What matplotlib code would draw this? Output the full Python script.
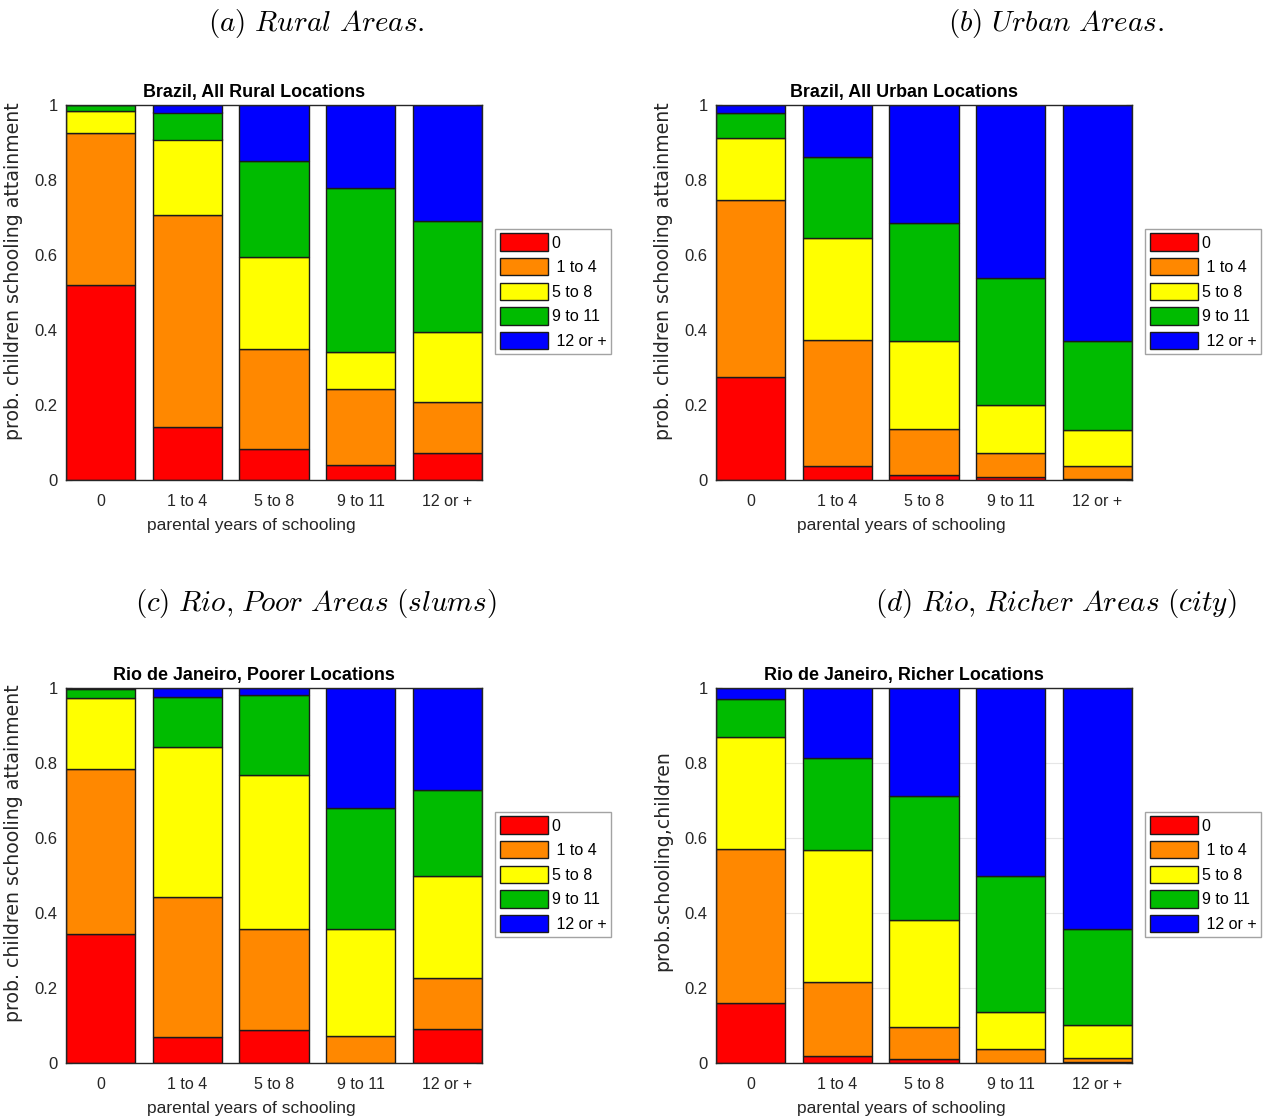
import matplotlib
matplotlib.use("Agg")
import matplotlib.pyplot as plt
import numpy as np

plt.rcParams['mathtext.fontset'] = 'cm'

# ---- data ----
parent_cats = ['0', '1 to 4', '5 to 8', '9 to 11', '12 or +']
child_labels = ['0', ' 1 to 4', '5 to 8', '9 to 11', ' 12 or +']

# Panel (a) Brazil rural: share of children by schooling class, per parental class
rural_0     = [0.520, 0.141, 0.084, 0.039, 0.073]
rural_1to4  = [0.405, 0.566, 0.266, 0.205, 0.136]
rural_5to8  = [0.059, 0.201, 0.244, 0.098, 0.185]
rural_9to11 = [0.015, 0.072, 0.258, 0.436, 0.298]
rural_12    = [0.001, 0.020, 0.148, 0.222, 0.308]

# Panel (b) Brazil urban
urban_0     = [0.275, 0.038, 0.014, 0.007, 0.004]
urban_1to4  = [0.472, 0.336, 0.123, 0.064, 0.034]
urban_5to8  = [0.164, 0.271, 0.234, 0.129, 0.095]
urban_9to11 = [0.067, 0.216, 0.314, 0.339, 0.238]
urban_12    = [0.022, 0.139, 0.315, 0.461, 0.629]

# Panel (c) Rio poorer
poor_0     = [0.345, 0.069, 0.089, 0.000, 0.091]
poor_1to4  = [0.438, 0.374, 0.268, 0.071, 0.136]
poor_5to8  = [0.191, 0.400, 0.411, 0.286, 0.273]
poor_9to11 = [0.024, 0.132, 0.214, 0.322, 0.227]
poor_12    = [0.002, 0.025, 0.018, 0.321, 0.273]

# Panel (d) Rio richer
rich_0     = [0.159, 0.020, 0.010, 0.001, 0.003]
rich_1to4  = [0.411, 0.197, 0.085, 0.036, 0.010]
rich_5to8  = [0.300, 0.352, 0.287, 0.099, 0.089]
rich_9to11 = [0.101, 0.245, 0.331, 0.363, 0.255]
rich_12    = [0.029, 0.186, 0.287, 0.501, 0.643]

colors = ['#FF0000', '#FF8800', '#FFFF00', '#00BB00', '#0000FF']

panels = [
    dict(series=[rural_0, rural_1to4, rural_5to8, rural_9to11, rural_12],
         title='Brazil, All Rural Locations',
         ylabel='prob. children schooling attainment',
         caption=r'$\mathit{(a)\ Rural\ Areas.}$', grid=False, ly=0.556),
    dict(series=[urban_0, urban_1to4, urban_5to8, urban_9to11, urban_12],
         title='Brazil, All Urban Locations',
         ylabel='prob. children schooling attainment',
         caption=r'$\mathit{(b)\ Urban\ Areas.}$', grid=False, ly=0.556),
    dict(series=[poor_0, poor_1to4, poor_5to8, poor_9to11, poor_12],
         title='Rio de Janeiro, Poorer Locations',
         ylabel='prob. children schooling attainment',
         caption=r'$\mathit{(c)\ Rio{,}\ Poor\ Areas\ (slums)}$', grid=False, ly=0.559),
    dict(series=[rich_0, rich_1to4, rich_5to8, rich_9to11, rich_12],
         title='Rio de Janeiro, Richer Locations',
         ylabel='prob.schooling,children',
         caption=r'$\mathit{(d)\ Rio{,}\ Richer\ Areas\ (city)}$', grid=True, ly=0.54),
]

W, H = 1275, 1120
fig = plt.figure(figsize=(W / 100, H / 100), dpi=100)

ax_px = [(66, 105), (716, 105), (66, 688), (716, 688)]
ax_w, ax_h = 416, 375
cap_pos = [(316, 24), (1056, 24), (316, 604), (1056, 604)]

sans = 'Liberation Sans'
dark = '#262626'
x = np.arange(1, len(parent_cats) + 1)
bw = 0.8

for p, (lx, ty), (cx, cy) in zip(panels, ax_px, cap_pos):
    ax = fig.add_axes([lx / W, 1 - (ty + ax_h) / H, ax_w / W, ax_h / H])
    bottom = np.zeros(len(x))
    for vals, col, lab in zip(p['series'], colors, child_labels):
        v = np.array(vals)
        ax.bar(x, v, bw, bottom=bottom, color=col, edgecolor='#1a1a1a',
               linewidth=1.0, label=lab, zorder=2)
        bottom += v
    ax.set_xlim(1 - bw / 2, len(x) + bw / 2)
    ax.set_ylim(0, 1)
    ax.set_xticks(x)
    ax.set_xticklabels(parent_cats, fontfamily=sans, fontsize=11.5, color=dark)
    ax.set_yticks([0, 0.2, 0.4, 0.6, 0.8, 1])
    ax.set_yticklabels(['0', '0.2', '0.4', '0.6', '0.8', '1'],
                       fontfamily=sans, fontsize=12, color=dark)
    ax.tick_params(direction='in', length=4, width=0.8, color=dark,
                   top=True, right=True)
    ax.tick_params(axis='x', pad=10)
    ax.tick_params(axis='y', pad=6)
    for s in ax.spines.values():
        s.set_color(dark)
        s.set_linewidth(1.0)
    if p['grid']:
        ax.yaxis.grid(True, color='#e6e6e6', linewidth=0.8, zorder=0)
        ax.set_axisbelow(True)
    ax.set_xlabel('parental years of schooling', fontfamily=sans,
                  fontsize=12.5, color=dark)
    ax.xaxis.set_label_coords(0.445, -0.101)
    ax.set_ylabel(p['ylabel'], fontfamily='DejaVu Sans', fontsize=13.6, color=dark)
    ax.yaxis.set_label_coords(-0.104, p['ly'])
    ax.set_title(p['title'], fontfamily=sans, fontweight='bold', fontsize=12.9,
                 color='black', x=0.452, pad=6)
    leg = ax.legend(loc='center left', bbox_to_anchor=(1.031, 0.503),
                    borderaxespad=0, frameon=True, fancybox=False,
                    edgecolor='#8c8c8c',
                    prop=dict(family=sans, size=11.5),
                    handlelength=3.0, handleheight=1.3, handletextpad=0.25,
                    labelspacing=0.45, borderpad=0.3)
    leg.get_frame().set_linewidth(1.0)
    fig.text(cx / W, 1 - cy / H, p['caption'], fontsize=21, ha='center',
             va='center', color='black')

fig.savefig('out.png', dpi=100)
